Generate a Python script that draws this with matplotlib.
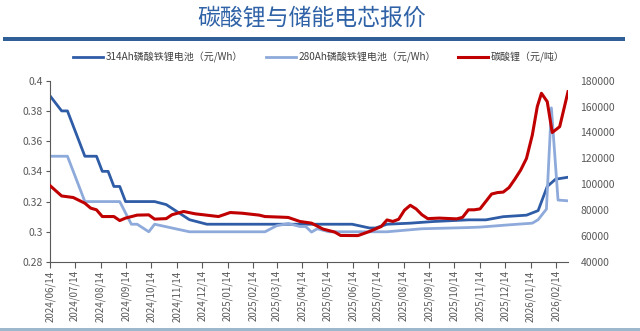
import matplotlib
matplotlib.use("Agg")
import matplotlib.pyplot as plt
from matplotlib.patches import Rectangle
import pandas as pd

plt.rcParams['font.family'] = ['Noto Sans CJK SC', 'DejaVu Sans']

# ── 314Ah LFP cell price (元/Wh) ────────────────────────────────────────────
cell314_dates = [
    "2024-06-14", "2024-06-28", "2024-07-05", "2024-07-26", "2024-08-09",
    "2024-08-16", "2024-08-23", "2024-08-30", "2024-09-06", "2024-09-13",
    "2024-10-18", "2024-11-01", "2024-11-15", "2024-11-29", "2024-12-20",
    "2025-06-13", "2025-07-04", "2025-07-11", "2025-07-25", "2025-08-22",
    "2025-09-19", "2025-10-31", "2025-11-21", "2025-12-12", "2026-01-09",
    "2026-01-23", "2026-02-03", "2026-02-13", "2026-02-28",
]
cell314_price = [
    0.390, 0.380, 0.380, 0.350, 0.350,
    0.340, 0.340, 0.330, 0.330, 0.320,
    0.320, 0.318, 0.313, 0.308, 0.305,
    0.305, 0.3025, 0.3025, 0.305, 0.3057,
    0.3068, 0.3079, 0.3079, 0.310, 0.311,
    0.314, 0.330, 0.3348, 0.3361,
]

# ── 280Ah LFP cell price (元/Wh) ────────────────────────────────────────────
cell280_dates = [
    "2024-06-14", "2024-07-05", "2024-07-26", "2024-09-06", "2024-09-20",
    "2024-09-27", "2024-10-11", "2024-10-18", "2024-11-29", "2025-02-28",
    "2025-03-14", "2025-03-28", "2025-04-11", "2025-04-18", "2025-04-25",
    "2025-05-02", "2025-05-16", "2025-07-25", "2025-08-15", "2025-09-05",
    "2025-10-31", "2025-11-14", "2025-12-19", "2026-01-16", "2026-01-23",
    "2026-02-02", "2026-02-08", "2026-02-16", "2026-02-28",
]
cell280_price = [
    0.350, 0.350, 0.320, 0.320, 0.305,
    0.305, 0.300, 0.305, 0.300, 0.300,
    0.304, 0.3055, 0.3035, 0.3035, 0.2998,
    0.302, 0.300, 0.300, 0.301, 0.302,
    0.3028, 0.3031, 0.3046, 0.3057, 0.308,
    0.315, 0.382, 0.321, 0.3205,
]

# ── Lithium carbonate spot price (元/吨) ─────────────────────────────────────
li2co3_dates = [
    "2024-06-14", "2024-06-28", "2024-07-12", "2024-07-26", "2024-08-02",
    "2024-08-09", "2024-08-16", "2024-08-30", "2024-09-06", "2024-09-13",
    "2024-09-27", "2024-10-11", "2024-10-18", "2024-11-01", "2024-11-08",
    "2024-11-22", "2024-12-06", "2025-01-03", "2025-01-17", "2025-01-31",
    "2025-02-21", "2025-02-28", "2025-03-21", "2025-03-28", "2025-04-11",
    "2025-04-25", "2025-05-09", "2025-05-23", "2025-05-30", "2025-06-20",
    "2025-07-04", "2025-07-18", "2025-07-25", "2025-08-01", "2025-08-08",
    "2025-08-15", "2025-08-22", "2025-08-29", "2025-09-05", "2025-09-12",
    "2025-09-26", "2025-10-17", "2025-10-24", "2025-10-31", "2025-11-07",
    "2025-11-14", "2025-11-28", "2025-12-05", "2025-12-12", "2025-12-19",
    "2025-12-26", "2026-01-02", "2026-01-09", "2026-01-16", "2026-01-22",
    "2026-01-27", "2026-02-03", "2026-02-09", "2026-02-18", "2026-02-28",
]
li2co3_price = [
    99000, 91000, 89800, 85400, 81600,
    80300, 75100, 75100, 72000, 73900,
    76200, 76400, 73100, 73500, 76500,
    79000, 77200, 75100, 78200, 77700,
    76200, 75100, 74600, 74400, 71300,
    70000, 65400, 63100, 60500, 60400,
    63600, 67400, 72500, 71300, 73000,
    80000, 83800, 81000, 76500, 73500,
    73900, 73300, 74500, 80300, 80300,
    81000, 92500, 93600, 94000, 97500,
    104000, 111000, 120000, 138000, 160000,
    170300, 163800, 140000, 144500, 171500,
]

# monthly ticks on the 14th
x_ticks = pd.date_range("2024-06-01", "2026-02-01", freq="MS") + pd.Timedelta(days=13)
left_ticks = [0.28, 0.30, 0.32, 0.34, 0.36, 0.38, 0.40]
left_labels = ["0.28", "0.3", "0.32", "0.34", "0.36", "0.38", "0.4"]
right_ticks = [40000, 60000, 80000, 100000, 120000, 140000, 160000, 180000]

C_314 = "#2f5ca6"
C_280 = "#8eaadb"
C_LI = "#c00000"
GREY = "#595959"

W, H = 640, 331
fig = plt.figure(figsize=(W / 100, H / 100), dpi=100)
fig.patch.set_facecolor("white")

fig.text(312 / W, 1 - 18 / H, "碳酸锂与储能电芯报价", ha="center", va="center",
         fontsize=16.5, color="#2f62a6", fontweight="medium")
fig.add_artist(Rectangle((3 / W, 1 - 41 / H), 622 / W, 4 / H,
                         transform=fig.transFigure, color="#2f5f96", lw=0))
fig.add_artist(Rectangle((0, 0), 1, 3 / H, transform=fig.transFigure,
                         color="#9db7cc", lw=0))

ax = fig.add_axes([50 / W, (H - 262) / H, 518 / W, 181.3 / H])
ax2 = ax.twinx()

d314 = pd.to_datetime(cell314_dates)
d280 = pd.to_datetime(cell280_dates)
dli = pd.to_datetime(li2co3_dates)

l1, = ax.plot(d314, cell314_price, color=C_314, lw=2.0, solid_joinstyle="round")
l2, = ax.plot(d280, cell280_price, color=C_280, lw=2.0, solid_joinstyle="round")
l3, = ax2.plot(dli, li2co3_price, color=C_LI, lw=2.2, solid_joinstyle="round")

ax.set_xlim(pd.Timestamp("2024-06-14"), pd.Timestamp("2026-02-28"))
ax.set_ylim(0.28, 0.40)
ax2.set_ylim(40000, 180000)

ax.set_yticks(left_ticks)
ax.set_yticklabels(left_labels)
ax2.set_yticks(right_ticks)
ax2.set_yticklabels([str(v) for v in right_ticks])

ax.set_xticks(x_ticks)
ax.set_xticklabels([d.strftime("%Y/%m/%d") for d in x_ticks], rotation=90)

for a in (ax, ax2):
    for s in ("top", "right"):
        a.spines[s].set_visible(False)
ax2.spines["left"].set_visible(False)
ax2.spines["bottom"].set_visible(False)
ax.spines["left"].set_color(GREY)
ax.spines["bottom"].set_color(GREY)

ax.tick_params(axis="y", direction="out", length=3, width=0.8, color=GREY,
               labelsize=7.5, labelcolor=GREY, pad=2)
ax.tick_params(axis="x", direction="out", length=4, width=0.8, color=GREY,
               labelsize=7, labelcolor=GREY, pad=2)
ax2.tick_params(axis="y", length=0, labelsize=7.5, labelcolor=GREY, pad=9)

fig.legend([l1, l2, l3],
           ["314Ah磷酸铁锂电池（元/Wh）", "280Ah磷酸铁锂电池（元/Wh）", "碳酸锂（元/吨）"],
           loc="center", bbox_to_anchor=(319 / W, 1 - 57 / H), ncol=3,
           frameon=False, fontsize=7.2, handlelength=3.0, handletextpad=0.3,
           columnspacing=2.2, labelcolor="#404040")

fig.savefig("out.png", dpi=100, facecolor="white")
